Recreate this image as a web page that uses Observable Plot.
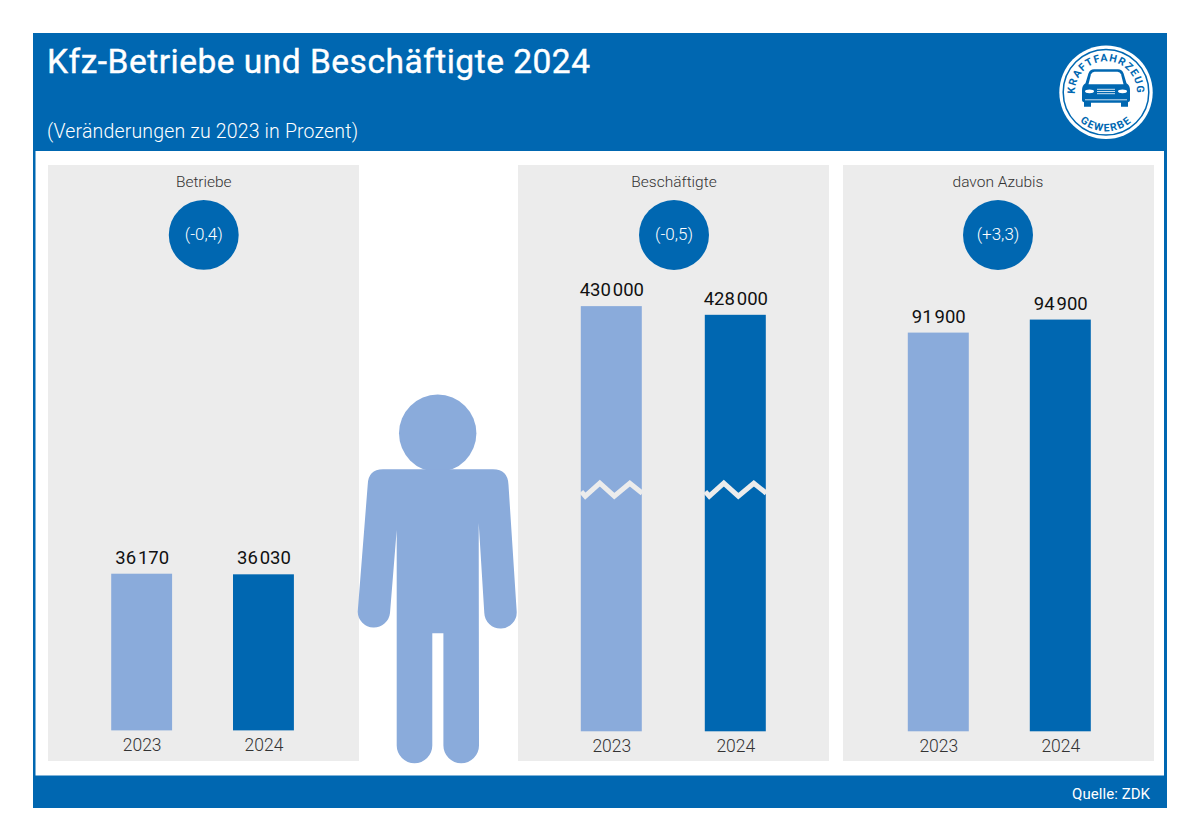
<!DOCTYPE html>
<html lang="de">
<head>
<meta charset="utf-8">
<script src="https://cdn.jsdelivr.net/npm/d3@7"></script>
<script src="https://cdn.jsdelivr.net/npm/@observablehq/plot@0.6"></script>
<style>
  html,body{margin:0;padding:0;background:#fff;}
  #page{position:relative;width:1200px;height:836px;overflow:hidden;font-family:Roboto,sans-serif;}
  #page>*{position:absolute;}
  .panel{background:#ececec;top:165px;height:596px;}
  .panel svg{display:block;background:transparent;overflow:visible;}
</style>
</head>
<body>
<div id="page">
  <svg width="1200" height="836" style="left:0;top:0" viewBox="0 0 1200 836">
    <rect x="33" y="33" width="1134" height="775" fill="#0067b1"/>
    <rect x="35.5" y="151" width="1128.5" height="624.5" fill="#fff"/>
    <text x="47" y="73" fill="#fff" font-size="33.5" font-weight="400" textLength="543" lengthAdjust="spacing" stroke="#fff" stroke-width="0.4">Kfz-Betriebe und Beschäftigte 2024</text>
    <text x="47" y="138" fill="#fff" font-size="19.5" font-weight="300" textLength="311" lengthAdjust="spacing">(Veränderungen zu 2023 in Prozent)</text>
    <text x="1150" y="799" fill="#fff" font-size="15" text-anchor="end" textLength="78" lengthAdjust="spacing">Quelle: ZDK</text>
    <!-- logo -->
    <g transform="translate(1106,92.3)">
      <circle r="46.7" fill="#fff"/>
      <circle r="42.8" fill="none" stroke="#0067b1" stroke-width="1.5"/>
      <defs>
        <path id="arcTop" d="M-23.7,19.9 A31,31 0 1 1 23.7,19.9"/>
        <path id="arcBot" d="M-39,0 A39,39 0 0 0 39,0"/>
      </defs>
      <text font-size="10.5" font-weight="700" fill="#0067b1" letter-spacing="1.2"><textPath href="#arcTop" startOffset="50%" text-anchor="middle">KRAFTFAHRZEUG</textPath></text>
      <text font-size="10.5" font-weight="700" fill="#0067b1" letter-spacing="1.4"><textPath href="#arcBot" startOffset="50%" text-anchor="middle">GEWERBE</textPath></text>
      <path fill="#0067b1" d="M-12,-23 H12 Q16,-23 17.5,-19 L20.5,-9 Q24,-7 24,-2 V8 Q24,9.5 22,10 V14.4 H15 V10.5 H-15 V14.4 H-22 V10 Q-24,9.5 -24,8 V-2 Q-24,-7 -20.5,-9 L-17.5,-19 Q-16,-23 -12,-23 Z"/>
      <path fill="#fff" d="M-11.5,-20.5 H11.5 Q14,-20.5 15,-18 L17.5,-8 H-17.5 L-15,-18 Q-14,-20.5 -11.5,-20.5 Z"/>
      <ellipse cx="-16.5" cy="-1" rx="4.5" ry="1.9" fill="#fff"/>
      <ellipse cx="16.5" cy="-1" rx="4.5" ry="1.9" fill="#fff"/>
      <path stroke="#fff" stroke-width="0.8" d="M-9,-3 H9 M-9,-0.8 H9 M-9,1.4 H9 M-21,7.5 H21"/>
    </g>
  </svg>
  <div id="p1" class="panel" style="left:48px;width:310.5px"></div>
  <div id="p2" class="panel" style="left:517.5px;width:311px"></div>
  <div id="p3" class="panel" style="left:842.5px;width:311px"></div>
  <svg width="1200" height="836" style="left:0;top:0;pointer-events:none" viewBox="0 0 1200 836">
    <!-- person -->
    <g fill="#8aabdb">
      <circle cx="437.7" cy="433.3" r="38.7"/>
      <path d="M383,469.3 H493 Q508,469.3 508.5,485 L516.7,611.7 A16.2,16.2 0 0 1 484.3,613 L478.7,523 L479,745.5 A17.8,17.8 0 0 1 443.4,745.5 V633.3 H432.3 V745.5 A17.8,17.8 0 0 1 396.7,745.5 L396.7,530 L390,613 A16.2,16.2 0 0 1 357.7,611.7 L367.7,485 Q368,469.3 383,469.3 Z"/>
    </g>
  </svg>
</div>
<script>
const years = ["2023", "2024"];
const betriebe = [36170, 36030];
const beschaeftigte = [430000, 428000];
const azubis = [91900, 94900];
const panelTitles = ["Betriebe", "Beschäftigte", "davon Azubis"];
const changes = ["(-0,4)", "(-0,5)", "(+3,3)"];
const truncatedBase = 332000;   // the Beschäftigte axis is broken below this value
const breakValue = 387800;

const BLUE = "#0067b1", LIGHT = "#8aabdb", PANEL = "#ececec";
const fmt = v => d3.format(",")(v).replace(",", "\u200A");

// zigzag break symbol, drawn relative to the bar width
const zigzag = {
  draw(ctx, size) {
    const r = Math.sqrt(size / Math.PI), u = r / 30.5;
    ctx.moveTo(-30.5 * u, 2 * u);
    ctx.lineTo(-26.5 * u, 6.5 * u);
    ctx.lineTo(-12 * u, -6.5 * u);
    ctx.lineTo(2.5 * u, 6.5 * u);
    ctx.lineTo(18 * u, -6.5 * u);
    ctx.lineTo(30.5 * u, 3.5 * u);
  }
};

function panel(id, title, change, values, opts) {
  const base = opts.base || 0;
  const rows = years.map((year, i) => ({year, value: values[i]}));
  const marks = [
    Plot.barY(rows, {
      x: "year", y1: () => base, y2: "value",
      fill: d => d.year === years[0] ? LIGHT : BLUE
    }),
    Plot.text(rows, {
      x: "year", y: "value", text: d => fmt(d.value),
      lineAnchor: "bottom", dy: -10.5, fontSize: 18.5, fill: "#111", fontWeight: 400
    }),
    Plot.axisX({
      tickSize: 0, tickPadding: 8, fontSize: 17.5, fontWeight: 300,
      color: "#333", label: null
    }),
    Plot.text([title], {
      text: d => d, frameAnchor: "top", lineAnchor: "middle", dy: 17, dx: opts.dx || 0,
      fontSize: 15.5, fontWeight: 300, fill: "#333"
    }),
    Plot.dot([change], {
      frameAnchor: "top", dy: 69.5, dx: opts.dx || 0, r: 35, fill: BLUE, stroke: "none"
    }),
    Plot.text([change], {
      text: d => d, frameAnchor: "top", lineAnchor: "middle", dy: 69.5, dx: opts.dx || 0,
      fontSize: 17, fontWeight: 300, fill: "#fff"
    })
  ];
  if (opts.broken) {
    marks.splice(1, 0, Plot.dot(rows, {
      x: "year", y: () => breakValue,
      symbol: zigzag, r: 30.5, fill: "none", stroke: PANEL, strokeWidth: 5,
      strokeLinejoin: "miter"
    }));
  }
  const chart = Plot.plot({
    width: 311, height: 596,
    marginTop: 0, marginBottom: 30, marginLeft: 0, marginRight: 0,
    style: {background: "transparent", fontFamily: "Roboto, sans-serif"},
    x: {domain: years, type: "band", round: false, range: opts.xRange, paddingInner: opts.inner, paddingOuter: 0.5, axis: null},
    y: {domain: [base, base + 130000], range: [566.3, 2.3], axis: null},
    marks
  });
  document.getElementById(id).appendChild(chart);
}

panel("p1", panelTitles[0], changes[0], betriebe, {xRange: [2.3, 307.3], inner: 0.5});
panel("p2", panelTitles[1], changes[1], beschaeftigte, {
  base: truncatedBase, xRange: [0.8, 309.8], inner: 63 / 124, broken: true
});
panel("p3", panelTitles[2], changes[2], azubis, {xRange: [3.8, 308.8], inner: 0.5, dx: -1});
</script>
</body>
</html>
